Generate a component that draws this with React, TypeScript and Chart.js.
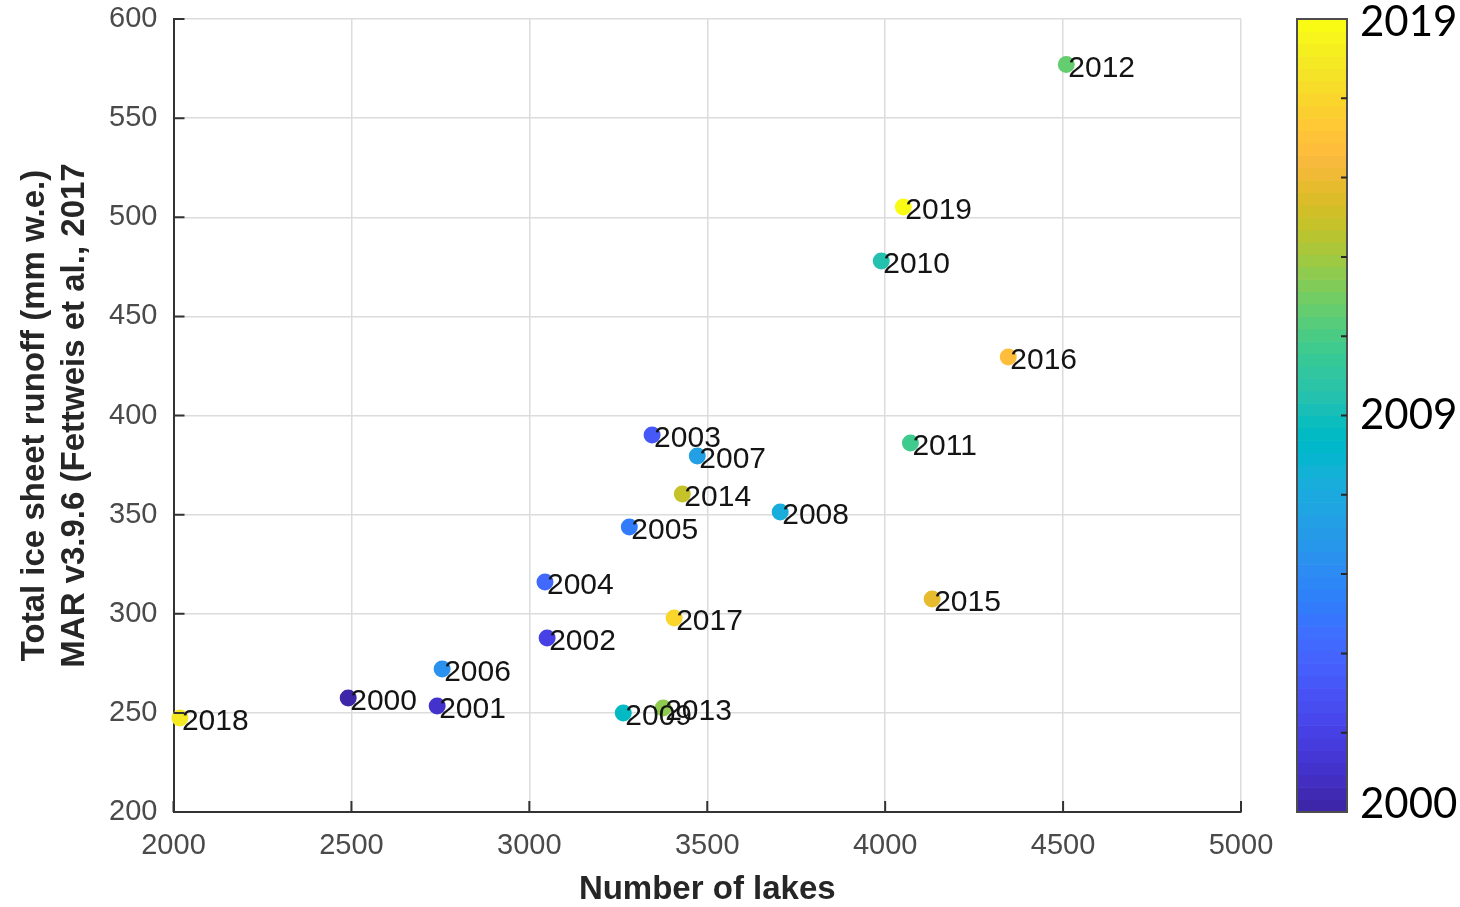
import React, { useEffect, useRef } from "react";
import { Chart, registerables } from "chart.js";

Chart.register(...registerables);

// ---- data ----
const years = [2000, 2001, 2002, 2003, 2004, 2005, 2006, 2007, 2008, 2009, 2010, 2011, 2012, 2013, 2014, 2015, 2016, 2017, 2018, 2019];
const lakes = [2491, 2741, 3050, 3345, 3044, 3281, 2755, 3472, 3705, 3264, 3989, 4071, 4509, 3376, 3430, 4132, 4346, 3407, 2018, 4051];
const runoff = [257.5, 253.5, 287.8, 390.2, 316.0, 343.8, 272.1, 379.6, 351.3, 249.9, 477.9, 386.1, 577.0, 252.5, 360.4, 307.4, 429.5, 297.9, 247.4, 505.2];

const xTicks = [2000, 2500, 3000, 3500, 4000, 4500, 5000];
const yTicks = [200, 250, 300, 350, 400, 450, 500, 550, 600];

const xTitle = "Number of lakes";
const yTitleLines = ["Total ice sheet runoff (mm w.e.)", "MAR v3.9.6 (Fettweis et al., 2017"];

const colorMin = 2000;
const colorMax = 2019;
const colorbarTickFracs = [0.1, 0.2, 0.3, 0.4, 0.5, 0.6, 0.7, 0.8, 0.9];
const colorbarLabels = ["2000", "2009", "2019"];
const colorbarLabelFracs = [0.009, 0.5, 0.996];

// MATLAB parula (64 entries)
const parula: number[][] = [
  [0.2422, 0.1504, 0.6603], [0.2504, 0.165, 0.7076], [0.2578, 0.1818, 0.7511], [0.2647, 0.1978, 0.7952],
  [0.2706, 0.2147, 0.8364], [0.2751, 0.2342, 0.871], [0.2783, 0.2559, 0.8991], [0.2803, 0.2782, 0.9221],
  [0.2813, 0.3006, 0.9414], [0.281, 0.3228, 0.9579], [0.2795, 0.3447, 0.9717], [0.276, 0.3667, 0.9829],
  [0.2699, 0.3892, 0.9906], [0.2602, 0.4123, 0.9952], [0.244, 0.4358, 0.9988], [0.2206, 0.4603, 0.9973],
  [0.1963, 0.4847, 0.9892], [0.1834, 0.5074, 0.9798], [0.1786, 0.5289, 0.9682], [0.1764, 0.5499, 0.952],
  [0.1687, 0.5703, 0.9359], [0.154, 0.5902, 0.9218], [0.146, 0.6091, 0.9079], [0.138, 0.6276, 0.8973],
  [0.1248, 0.6459, 0.8883], [0.1113, 0.6635, 0.8763], [0.0952, 0.6798, 0.8598], [0.0689, 0.6948, 0.8394],
  [0.0297, 0.7082, 0.8163], [0.0036, 0.7203, 0.7917], [0.0067, 0.7312, 0.766], [0.0433, 0.7411, 0.7394],
  [0.0964, 0.75, 0.712], [0.1408, 0.7584, 0.6842], [0.1717, 0.767, 0.6554], [0.1938, 0.7758, 0.6251],
  [0.2161, 0.7843, 0.5923], [0.247, 0.7918, 0.5567], [0.2906, 0.7973, 0.5188], [0.3406, 0.8008, 0.4789],
  [0.3909, 0.8029, 0.4354], [0.4456, 0.8024, 0.3909], [0.5044, 0.7993, 0.348], [0.5616, 0.7942, 0.3045],
  [0.6174, 0.7876, 0.2612], [0.672, 0.7793, 0.2227], [0.7242, 0.7698, 0.191], [0.7738, 0.7598, 0.1646],
  [0.8203, 0.7498, 0.1535], [0.8634, 0.7406, 0.1596], [0.9035, 0.733, 0.1774], [0.9393, 0.7288, 0.21],
  [0.9728, 0.7298, 0.2394], [0.9956, 0.7434, 0.2371], [0.997, 0.7659, 0.2199], [0.9952, 0.7893, 0.2028],
  [0.9892, 0.8136, 0.1885], [0.9786, 0.8386, 0.1766], [0.9676, 0.8639, 0.1643], [0.961, 0.889, 0.1537],
  [0.9597, 0.9135, 0.1423], [0.9628, 0.9373, 0.1265], [0.9691, 0.9606, 0.1064], [0.9769, 0.9839, 0.0805],
];

const rgb = (c: number[]) => `rgb(${Math.round(c[0] * 255)},${Math.round(c[1] * 255)},${Math.round(c[2] * 255)})`;
const colorFor = (v: number) => {
  const t = Math.min(1, Math.max(0, (v - colorMin) / (colorMax - colorMin)));
  return rgb(parula[Math.min(63, Math.floor(t * 64))]);
};

const FONT = '"Liberation Sans", Arial, Helvetica, sans-serif';

const overlayPlugin = {
  id: "overlay",
  afterDatasetsDraw(chart: any) {
    const { ctx, chartArea: a, scales } = chart;
    const x = scales.x;
    const y = scales.y;
    ctx.save();

    // inward tick marks (MATLAB style)
    ctx.strokeStyle = "#333333";
    ctx.lineWidth = 2;
    ctx.beginPath();
    xTicks.forEach((v) => {
      const px = x.getPixelForValue(v);
      ctx.moveTo(px, a.bottom);
      ctx.lineTo(px, a.bottom - 11);
    });
    yTicks.forEach((v) => {
      const py = y.getPixelForValue(v);
      ctx.moveTo(a.left, py);
      ctx.lineTo(a.left + 11, py);
    });
    ctx.stroke();

    // point labels
    ctx.font = `30px ${FONT}`;
    ctx.fillStyle = "#141414";
    ctx.textAlign = "left";
    ctx.textBaseline = "middle";
    years.forEach((yr, i) => {
      ctx.fillText(String(yr), x.getPixelForValue(lakes[i]) + 2, y.getPixelForValue(runoff[i]) + 4);
    });

    // axis titles
    ctx.fillStyle = "#262626";
    ctx.font = `bold 33px ${FONT}`;
    ctx.textAlign = "center";
    ctx.textBaseline = "middle";
    ctx.fillText(xTitle, (a.left + a.right) / 2, 890);
    const cy = (a.top + a.bottom) / 2;
    ctx.save();
    ctx.translate(35, cy);
    ctx.rotate(-Math.PI / 2);
    ctx.fillText(yTitleLines[0], 0, 0);
    ctx.restore();
    ctx.save();
    ctx.translate(75, cy);
    ctx.rotate(-Math.PI / 2);
    ctx.fillText(yTitleLines[1], 0, 0);
    ctx.restore();

    // colorbar
    const cbL = 1297;
    const cbR = 1347;
    const cbT = a.top;
    const cbB = a.bottom;
    const h = cbB - cbT;
    for (let i = 0; i < 64; i++) {
      ctx.fillStyle = rgb(parula[i]);
      const y0 = cbB - ((i + 1) / 64) * h;
      ctx.fillRect(cbL, y0, cbR - cbL, h / 64 + 0.6);
    }
    ctx.strokeStyle = "#4d4d4d";
    ctx.lineWidth = 2;
    ctx.strokeRect(cbL, cbT, cbR - cbL, h);
    ctx.strokeStyle = "#262626";
    ctx.beginPath();
    colorbarTickFracs.forEach((f) => {
      const py = cbB - f * h;
      ctx.moveTo(cbR, py);
      ctx.lineTo(cbR - 6, py);
    });
    ctx.stroke();

    ctx.fillStyle = "#000000";
    ctx.font = '42px Lato, "Noto Sans", sans-serif';
    ctx.textAlign = "left";
    ctx.textBaseline = "middle";
    colorbarLabels.forEach((lab, i) => {
      ctx.fillText(lab, 1360, cbB - colorbarLabelFracs[i] * h);
    });

    ctx.restore();
  },
};

export default function App() {
  const ref = useRef<HTMLCanvasElement | null>(null);

  useEffect(() => {
    if (!ref.current) return;
    const chart = new Chart(ref.current, {
      type: "scatter",
      data: {
        datasets: [
          {
            data: lakes.map((v, i) => ({ x: v, y: runoff[i] })),
            pointBackgroundColor: years.map((yr) => colorFor(yr)),
            pointBorderWidth: 0,
            pointRadius: 8.5,
            pointHoverRadius: 8.5,
            clip: false as any,
          },
        ],
      },
      options: {
        responsive: false,
        animation: false,
        layout: { padding: { left: 0, top: 19, right: 219, bottom: 0 } },
        plugins: { legend: { display: false }, tooltip: { enabled: false } },
        scales: {
          x: {
            type: "linear",
            min: 2000,
            max: 5000,
            afterBuildTicks: (s: any) => {
              s.ticks = xTicks.map((v) => ({ value: v }));
            },
            afterFit: (s: any) => {
              s.height = 95;
              s.paddingLeft = 0;
              s.paddingRight = 0;
            },
            grid: { color: "#dcdcdc", lineWidth: 1.5, drawTicks: false },
            border: { display: true, color: "#333333", width: 2 },
            ticks: {
              padding: 17,
              color: "#4a4a4a",
              font: { family: FONT, size: 29 },
              maxRotation: 0,
              callback: (v: any) => String(v),
            },
          },
          y: {
            type: "linear",
            min: 200,
            max: 600,
            afterBuildTicks: (s: any) => {
              s.ticks = yTicks.map((v) => ({ value: v }));
            },
            afterFit: (s: any) => {
              s.width = 173.5;
              s.paddingTop = 0;
              s.paddingBottom = 0;
            },
            grid: { color: "#dcdcdc", lineWidth: 1.5, drawTicks: false },
            border: { display: true, color: "#333333", width: 2 },
            ticks: {
              padding: 16,
              color: "#4a4a4a",
              font: { family: FONT, size: 29 },
              callback: (v: any) => String(v),
            },
          },
        },
      },
      plugins: [overlayPlugin],
    });
    return () => chart.destroy();
  }, []);

  return (
    <div style={{ position: "absolute", left: 0, top: 0, width: 1460, height: 907, background: "#ffffff" }}>
      <canvas ref={ref} width={1460} height={907} style={{ display: "block" }} />
    </div>
  );
}
